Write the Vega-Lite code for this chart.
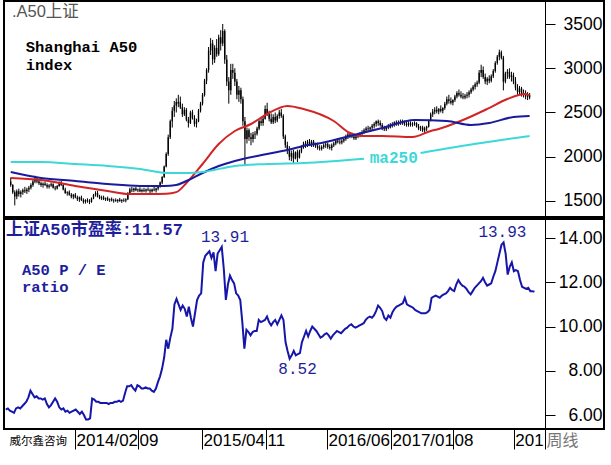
{
"$schema":"https://vega.github.io/schema/vega-lite/v6.json",
"padding":0,
"background":"white",
"spacing":0,
"config":{"view":{"stroke":"black","strokeWidth":2},"concat":{"spacing":0}},
"resolve":{"scale":{"x":"independent","y":"independent"}},
"datasets":{
"wk":[
{"d":"2013-06-07","o":1720,"h":1765,"l":1660,"c":1680,"pe":6.25},
{"d":"2013-06-14","o":1680,"h":1690,"l":1580,"c":1600,"pe":6.3},
{"d":"2013-06-21","o":1600,"h":1620,"l":1450,"c":1550,"pe":6.2},
{"d":"2013-06-28","o":1550,"h":1630,"l":1520,"c":1610,"pe":6.15},
{"d":"2013-07-05","o":1610,"h":1640,"l":1550,"c":1580,"pe":6.1},
{"d":"2013-07-12","o":1580,"h":1620,"l":1540,"c":1600,"pe":6.3},
{"d":"2013-07-19","o":1600,"h":1640,"l":1570,"c":1620,"pe":6.35},
{"d":"2013-07-26","o":1620,"h":1660,"l":1590,"c":1610,"pe":6.3},
{"d":"2013-08-02","o":1610,"h":1650,"l":1580,"c":1630,"pe":6.4},
{"d":"2013-08-09","o":1630,"h":1670,"l":1600,"c":1650,"pe":6.5},
{"d":"2013-08-16","o":1650,"h":1700,"l":1630,"c":1680,"pe":6.6},
{"d":"2013-08-23","o":1680,"h":1740,"l":1660,"c":1720,"pe":6.8},
{"d":"2013-08-30","o":1720,"h":1785,"l":1700,"c":1750,"pe":7.1},
{"d":"2013-09-06","o":1750,"h":1770,"l":1700,"c":1720,"pe":6.95},
{"d":"2013-09-13","o":1720,"h":1740,"l":1680,"c":1700,"pe":6.8},
{"d":"2013-09-20","o":1700,"h":1720,"l":1660,"c":1680,"pe":6.85},
{"d":"2013-09-27","o":1680,"h":1710,"l":1650,"c":1695,"pe":6.75},
{"d":"2013-10-04","o":1695,"h":1720,"l":1670,"c":1680,"pe":6.75},
{"d":"2013-10-11","o":1680,"h":1700,"l":1640,"c":1660,"pe":6.7},
{"d":"2013-10-18","o":1660,"h":1690,"l":1640,"c":1675,"pe":6.75},
{"d":"2013-10-25","o":1675,"h":1710,"l":1660,"c":1690,"pe":6.5},
{"d":"2013-11-01","o":1690,"h":1700,"l":1640,"c":1650,"pe":6.35},
{"d":"2013-11-08","o":1650,"h":1670,"l":1620,"c":1640,"pe":6.45},
{"d":"2013-11-15","o":1640,"h":1680,"l":1630,"c":1670,"pe":6.6},
{"d":"2013-11-22","o":1670,"h":1720,"l":1660,"c":1710,"pe":6.75},
{"d":"2013-11-29","o":1710,"h":1730,"l":1670,"c":1680,"pe":6.6},
{"d":"2013-12-06","o":1680,"h":1690,"l":1620,"c":1630,"pe":6.35},
{"d":"2013-12-13","o":1630,"h":1650,"l":1580,"c":1590,"pe":6.25},
{"d":"2013-12-20","o":1590,"h":1610,"l":1560,"c":1600,"pe":6.3},
{"d":"2013-12-27","o":1600,"h":1620,"l":1560,"c":1570,"pe":6.15},
{"d":"2014-01-03","o":1570,"h":1590,"l":1530,"c":1550,"pe":6.2},
{"d":"2014-01-10","o":1550,"h":1580,"l":1520,"c":1570,"pe":6.1},
{"d":"2014-01-17","o":1570,"h":1590,"l":1530,"c":1540,"pe":6.15},
{"d":"2014-01-24","o":1540,"h":1560,"l":1500,"c":1520,"pe":6.2},
{"d":"2014-01-31","o":1520,"h":1550,"l":1490,"c":1540,"pe":6.25},
{"d":"2014-02-07","o":1540,"h":1560,"l":1500,"c":1510,"pe":6.15},
{"d":"2014-02-14","o":1510,"h":1530,"l":1470,"c":1490,"pe":6.05},
{"d":"2014-02-21","o":1490,"h":1520,"l":1470,"c":1510,"pe":6.15},
{"d":"2014-02-28","o":1510,"h":1530,"l":1480,"c":1500,"pe":6.0},
{"d":"2014-03-07","o":1500,"h":1520,"l":1465,"c":1490,"pe":5.8},
{"d":"2014-03-14","o":1490,"h":1540,"l":1480,"c":1530,"pe":5.8},
{"d":"2014-03-21","o":1530,"h":1580,"l":1520,"c":1570,"pe":5.85},
{"d":"2014-03-28","o":1570,"h":1610,"l":1550,"c":1590,"pe":6.75},
{"d":"2014-04-04","o":1590,"h":1615,"l":1540,"c":1550,"pe":6.7},
{"d":"2014-04-11","o":1550,"h":1570,"l":1520,"c":1530,"pe":6.6},
{"d":"2014-04-18","o":1530,"h":1560,"l":1510,"c":1540,"pe":6.6},
{"d":"2014-04-25","o":1540,"h":1560,"l":1510,"c":1520,"pe":6.55},
{"d":"2014-05-02","o":1520,"h":1540,"l":1500,"c":1530,"pe":6.55},
{"d":"2014-05-09","o":1530,"h":1550,"l":1500,"c":1510,"pe":6.55},
{"d":"2014-05-16","o":1510,"h":1530,"l":1490,"c":1520,"pe":6.55},
{"d":"2014-05-23","o":1520,"h":1540,"l":1495,"c":1505,"pe":6.5},
{"d":"2014-05-30","o":1505,"h":1525,"l":1480,"c":1510,"pe":6.55},
{"d":"2014-06-06","o":1510,"h":1530,"l":1490,"c":1500,"pe":6.55},
{"d":"2014-06-13","o":1500,"h":1520,"l":1480,"c":1515,"pe":6.6},
{"d":"2014-06-20","o":1515,"h":1535,"l":1490,"c":1500,"pe":6.6},
{"d":"2014-06-27","o":1500,"h":1520,"l":1478,"c":1510,"pe":6.65},
{"d":"2014-07-04","o":1510,"h":1530,"l":1490,"c":1505,"pe":6.6},
{"d":"2014-07-11","o":1505,"h":1530,"l":1485,"c":1520,"pe":6.65},
{"d":"2014-07-18","o":1520,"h":1600,"l":1510,"c":1590,"pe":7.0},
{"d":"2014-07-25","o":1590,"h":1650,"l":1580,"c":1630,"pe":7.3},
{"d":"2014-08-01","o":1630,"h":1660,"l":1600,"c":1620,"pe":7.3},
{"d":"2014-08-08","o":1620,"h":1650,"l":1600,"c":1640,"pe":7.35},
{"d":"2014-08-15","o":1640,"h":1660,"l":1610,"c":1620,"pe":7.2},
{"d":"2014-08-22","o":1620,"h":1640,"l":1600,"c":1630,"pe":7.1},
{"d":"2014-08-29","o":1630,"h":1655,"l":1600,"c":1610,"pe":7.35},
{"d":"2014-09-05","o":1610,"h":1640,"l":1595,"c":1625,"pe":7.3},
{"d":"2014-09-12","o":1625,"h":1650,"l":1600,"c":1615,"pe":7.2},
{"d":"2014-09-19","o":1615,"h":1640,"l":1595,"c":1630,"pe":7.2},
{"d":"2014-09-26","o":1630,"h":1655,"l":1610,"c":1620,"pe":7.25},
{"d":"2014-10-03","o":1620,"h":1640,"l":1590,"c":1610,"pe":7.2},
{"d":"2014-10-10","o":1610,"h":1640,"l":1595,"c":1630,"pe":7.2},
{"d":"2014-10-17","o":1630,"h":1660,"l":1610,"c":1620,"pe":7.1},
{"d":"2014-10-24","o":1620,"h":1650,"l":1595,"c":1640,"pe":7.05},
{"d":"2014-10-31","o":1640,"h":1680,"l":1620,"c":1670,"pe":7.2},
{"d":"2014-11-07","o":1670,"h":1720,"l":1650,"c":1710,"pe":7.5},
{"d":"2014-11-14","o":1710,"h":1780,"l":1690,"c":1770,"pe":7.75},
{"d":"2014-11-21","o":1770,"h":1900,"l":1760,"c":1890,"pe":8.1},
{"d":"2014-11-28","o":1890,"h":2050,"l":1880,"c":2030,"pe":8.6},
{"d":"2014-12-05","o":2030,"h":2250,"l":2010,"c":2220,"pe":9.4},
{"d":"2014-12-12","o":2220,"h":2420,"l":2200,"c":2400,"pe":9.0},
{"d":"2014-12-19","o":2400,"h":2560,"l":2330,"c":2520,"pe":9.5},
{"d":"2014-12-26","o":2520,"h":2630,"l":2450,"c":2580,"pe":9.9},
{"d":"2015-01-02","o":2580,"h":2660,"l":2500,"c":2620,"pe":11.0},
{"d":"2015-01-09","o":2620,"h":2700,"l":2560,"c":2600,"pe":11.25},
{"d":"2015-01-16","o":2620,"h":2680,"l":2540,"c":2560,"pe":11.0},
{"d":"2015-01-23","o":2560,"h":2600,"l":2450,"c":2480,"pe":10.75},
{"d":"2015-01-30","o":2480,"h":2560,"l":2460,"c":2530,"pe":10.95},
{"d":"2015-02-06","o":2530,"h":2550,"l":2400,"c":2420,"pe":10.8},
{"d":"2015-02-13","o":2420,"h":2450,"l":2330,"c":2380,"pe":10.45},
{"d":"2015-02-20","o":2380,"h":2520,"l":2370,"c":2500,"pe":10.9},
{"d":"2015-02-27","o":2500,"h":2530,"l":2420,"c":2440,"pe":10.4},
{"d":"2015-03-06","o":2440,"h":2470,"l":2340,"c":2370,"pe":10.0},
{"d":"2015-03-13","o":2370,"h":2430,"l":2330,"c":2400,"pe":10.6},
{"d":"2015-03-20","o":2400,"h":2540,"l":2390,"c":2520,"pe":11.2},
{"d":"2015-03-27","o":2520,"h":2620,"l":2500,"c":2600,"pe":11.4},
{"d":"2015-04-03","o":2600,"h":2720,"l":2580,"c":2700,"pe":11.5},
{"d":"2015-04-10","o":2700,"h":2880,"l":2680,"c":2860,"pe":12.9},
{"d":"2015-04-17","o":2860,"h":3000,"l":2820,"c":2980,"pe":13.2},
{"d":"2015-04-24","o":2980,"h":3240,"l":2950,"c":3200,"pe":13.3},
{"d":"2015-05-01","o":3200,"h":3340,"l":3150,"c":3280,"pe":13.4},
{"d":"2015-05-08","o":3280,"h":3320,"l":3040,"c":3100,"pe":13.1},
{"d":"2015-05-15","o":3100,"h":3260,"l":3060,"c":3230,"pe":13.35},
{"d":"2015-05-22","o":3230,"h":3330,"l":3130,"c":3160,"pe":12.5},
{"d":"2015-05-29","o":3160,"h":3380,"l":3140,"c":3350,"pe":13.3},
{"d":"2015-06-05","o":3350,"h":3430,"l":3200,"c":3280,"pe":13.45},
{"d":"2015-06-12","o":3280,"h":3500,"l":3250,"c":3420,"pe":13.6},
{"d":"2015-06-19","o":3420,"h":3440,"l":3050,"c":3100,"pe":12.6},
{"d":"2015-06-26","o":3100,"h":3150,"l":2800,"c":2850,"pe":11.2},
{"d":"2015-07-03","o":2850,"h":2900,"l":2600,"c":2750,"pe":11.9},
{"d":"2015-07-10","o":2750,"h":3050,"l":2700,"c":2980,"pe":12.3},
{"d":"2015-07-17","o":2980,"h":3050,"l":2880,"c":2950,"pe":12.1},
{"d":"2015-07-24","o":2950,"h":3000,"l":2800,"c":2850,"pe":11.95},
{"d":"2015-07-31","o":2850,"h":2880,"l":2650,"c":2700,"pe":11.5},
{"d":"2015-08-07","o":2700,"h":2800,"l":2620,"c":2750,"pe":11.4},
{"d":"2015-08-14","o":2750,"h":2780,"l":2600,"c":2650,"pe":11.2},
{"d":"2015-08-21","o":2650,"h":2680,"l":2350,"c":2400,"pe":10.2},
{"d":"2015-08-28","o":2400,"h":2450,"l":1900,"c":2200,"pe":9.0},
{"d":"2015-09-04","o":2200,"h":2330,"l":2150,"c":2300,"pe":9.85},
{"d":"2015-09-11","o":2300,"h":2320,"l":2180,"c":2220,"pe":9.75},
{"d":"2015-09-18","o":2220,"h":2270,"l":2130,"c":2200,"pe":9.6},
{"d":"2015-09-25","o":2200,"h":2280,"l":2160,"c":2250,"pe":9.75},
{"d":"2015-10-02","o":2250,"h":2290,"l":2200,"c":2260,"pe":9.8},
{"d":"2015-10-09","o":2260,"h":2340,"l":2240,"c":2320,"pe":9.8},
{"d":"2015-10-16","o":2320,"h":2420,"l":2300,"c":2400,"pe":10.3},
{"d":"2015-10-23","o":2400,"h":2450,"l":2350,"c":2380,"pe":10.2},
{"d":"2015-10-30","o":2380,"h":2460,"l":2350,"c":2430,"pe":10.25},
{"d":"2015-11-06","o":2430,"h":2580,"l":2420,"c":2540,"pe":10.3},
{"d":"2015-11-13","o":2540,"h":2610,"l":2460,"c":2480,"pe":10.45},
{"d":"2015-11-20","o":2480,"h":2520,"l":2400,"c":2430,"pe":10.2},
{"d":"2015-11-27","o":2430,"h":2490,"l":2370,"c":2390,"pe":10.05},
{"d":"2015-12-04","o":2390,"h":2480,"l":2370,"c":2450,"pe":10.2},
{"d":"2015-12-11","o":2450,"h":2500,"l":2380,"c":2410,"pe":10.3},
{"d":"2015-12-18","o":2410,"h":2480,"l":2390,"c":2460,"pe":10.1},
{"d":"2015-12-25","o":2460,"h":2530,"l":2430,"c":2500,"pe":10.3},
{"d":"2016-01-01","o":2500,"h":2540,"l":2440,"c":2460,"pe":10.5},
{"d":"2016-01-08","o":2460,"h":2480,"l":2200,"c":2230,"pe":10.3},
{"d":"2016-01-15","o":2230,"h":2250,"l":2100,"c":2130,"pe":9.3},
{"d":"2016-01-22","o":2130,"h":2170,"l":2030,"c":2080,"pe":8.9},
{"d":"2016-01-29","o":2080,"h":2120,"l":1960,"c":2000,"pe":8.55},
{"d":"2016-02-05","o":2000,"h":2070,"l":1950,"c":2040,"pe":8.7},
{"d":"2016-02-12","o":2040,"h":2080,"l":1930,"c":1980,"pe":8.9},
{"d":"2016-02-19","o":1980,"h":2060,"l":1970,"c":2050,"pe":8.7},
{"d":"2016-02-26","o":2050,"h":2080,"l":1940,"c":1990,"pe":8.75},
{"d":"2016-03-04","o":1990,"h":2080,"l":1980,"c":2060,"pe":8.8},
{"d":"2016-03-11","o":2060,"h":2130,"l":2040,"c":2110,"pe":9.3},
{"d":"2016-03-18","o":2110,"h":2170,"l":2090,"c":2150,"pe":9.55},
{"d":"2016-03-25","o":2150,"h":2180,"l":2100,"c":2130,"pe":9.8},
{"d":"2016-04-01","o":2130,"h":2190,"l":2110,"c":2170,"pe":9.55},
{"d":"2016-04-08","o":2170,"h":2200,"l":2120,"c":2140,"pe":9.8},
{"d":"2016-04-15","o":2140,"h":2190,"l":2110,"c":2170,"pe":10.0},
{"d":"2016-04-22","o":2170,"h":2190,"l":2110,"c":2130,"pe":9.9},
{"d":"2016-04-29","o":2130,"h":2160,"l":2100,"c":2120,"pe":9.8},
{"d":"2016-05-06","o":2120,"h":2160,"l":2080,"c":2100,"pe":9.65},
{"d":"2016-05-13","o":2100,"h":2130,"l":2070,"c":2090,"pe":9.5},
{"d":"2016-05-20","o":2090,"h":2130,"l":2070,"c":2110,"pe":9.55},
{"d":"2016-05-27","o":2110,"h":2150,"l":2090,"c":2130,"pe":9.65},
{"d":"2016-06-03","o":2130,"h":2160,"l":2100,"c":2140,"pe":9.7},
{"d":"2016-06-10","o":2140,"h":2160,"l":2090,"c":2110,"pe":9.6},
{"d":"2016-06-17","o":2110,"h":2140,"l":2080,"c":2100,"pe":9.45},
{"d":"2016-06-24","o":2100,"h":2150,"l":2070,"c":2130,"pe":9.6},
{"d":"2016-07-01","o":2130,"h":2170,"l":2110,"c":2150,"pe":9.7},
{"d":"2016-07-08","o":2150,"h":2200,"l":2130,"c":2180,"pe":9.8},
{"d":"2016-07-15","o":2180,"h":2210,"l":2150,"c":2170,"pe":9.75},
{"d":"2016-07-22","o":2170,"h":2200,"l":2140,"c":2160,"pe":9.7},
{"d":"2016-07-29","o":2160,"h":2200,"l":2140,"c":2180,"pe":9.8},
{"d":"2016-08-05","o":2180,"h":2220,"l":2160,"c":2200,"pe":9.9},
{"d":"2016-08-12","o":2200,"h":2250,"l":2180,"c":2230,"pe":9.95},
{"d":"2016-08-19","o":2230,"h":2270,"l":2200,"c":2250,"pe":10.05},
{"d":"2016-08-26","o":2250,"h":2280,"l":2210,"c":2240,"pe":10.1},
{"d":"2016-09-02","o":2240,"h":2270,"l":2210,"c":2230,"pe":10.0},
{"d":"2016-09-09","o":2230,"h":2260,"l":2190,"c":2210,"pe":9.95},
{"d":"2016-09-16","o":2210,"h":2250,"l":2190,"c":2230,"pe":10.0},
{"d":"2016-09-23","o":2230,"h":2270,"l":2210,"c":2250,"pe":10.05},
{"d":"2016-09-30","o":2250,"h":2280,"l":2220,"c":2260,"pe":10.1},
{"d":"2016-10-07","o":2260,"h":2300,"l":2240,"c":2280,"pe":10.15},
{"d":"2016-10-14","o":2280,"h":2320,"l":2260,"c":2300,"pe":10.3},
{"d":"2016-10-21","o":2300,"h":2340,"l":2280,"c":2320,"pe":10.4},
{"d":"2016-10-28","o":2320,"h":2350,"l":2290,"c":2310,"pe":10.45},
{"d":"2016-11-04","o":2310,"h":2340,"l":2280,"c":2330,"pe":10.4},
{"d":"2016-11-11","o":2330,"h":2370,"l":2300,"c":2350,"pe":10.5},
{"d":"2016-11-18","o":2350,"h":2390,"l":2320,"c":2370,"pe":10.7},
{"d":"2016-11-25","o":2370,"h":2410,"l":2340,"c":2400,"pe":10.95},
{"d":"2016-12-02","o":2400,"h":2420,"l":2350,"c":2380,"pe":10.85},
{"d":"2016-12-09","o":2380,"h":2410,"l":2340,"c":2360,"pe":10.7},
{"d":"2016-12-16","o":2360,"h":2380,"l":2300,"c":2320,"pe":10.4},
{"d":"2016-12-23","o":2320,"h":2350,"l":2290,"c":2310,"pe":10.3},
{"d":"2016-12-30","o":2310,"h":2350,"l":2290,"c":2340,"pe":10.5},
{"d":"2017-01-06","o":2340,"h":2370,"l":2310,"c":2330,"pe":10.4},
{"d":"2017-01-13","o":2330,"h":2380,"l":2320,"c":2360,"pe":10.65},
{"d":"2017-01-20","o":2360,"h":2390,"l":2330,"c":2370,"pe":10.8},
{"d":"2017-01-27","o":2370,"h":2400,"l":2340,"c":2390,"pe":10.9},
{"d":"2017-02-03","o":2390,"h":2410,"l":2350,"c":2370,"pe":10.95},
{"d":"2017-02-10","o":2370,"h":2410,"l":2350,"c":2390,"pe":11.0},
{"d":"2017-02-17","o":2390,"h":2420,"l":2360,"c":2380,"pe":11.05},
{"d":"2017-02-24","o":2380,"h":2420,"l":2360,"c":2400,"pe":11.3},
{"d":"2017-03-03","o":2400,"h":2410,"l":2350,"c":2370,"pe":11.0},
{"d":"2017-03-10","o":2370,"h":2400,"l":2340,"c":2360,"pe":10.95},
{"d":"2017-03-17","o":2360,"h":2400,"l":2340,"c":2380,"pe":10.9},
{"d":"2017-03-24","o":2380,"h":2400,"l":2340,"c":2360,"pe":10.85},
{"d":"2017-03-31","o":2360,"h":2390,"l":2340,"c":2370,"pe":10.75},
{"d":"2017-04-07","o":2370,"h":2400,"l":2350,"c":2380,"pe":10.7},
{"d":"2017-04-14","o":2380,"h":2390,"l":2330,"c":2340,"pe":10.65},
{"d":"2017-04-21","o":2340,"h":2370,"l":2300,"c":2320,"pe":10.6},
{"d":"2017-04-28","o":2320,"h":2350,"l":2290,"c":2330,"pe":10.6},
{"d":"2017-05-05","o":2330,"h":2350,"l":2280,"c":2300,"pe":10.6},
{"d":"2017-05-12","o":2300,"h":2340,"l":2270,"c":2320,"pe":10.65},
{"d":"2017-05-19","o":2320,"h":2350,"l":2290,"c":2340,"pe":10.75},
{"d":"2017-05-26","o":2340,"h":2420,"l":2330,"c":2410,"pe":11.3},
{"d":"2017-06-02","o":2410,"h":2500,"l":2400,"c":2480,"pe":11.35},
{"d":"2017-06-09","o":2480,"h":2540,"l":2450,"c":2510,"pe":11.4},
{"d":"2017-06-16","o":2510,"h":2560,"l":2480,"c":2530,"pe":11.35},
{"d":"2017-06-23","o":2530,"h":2570,"l":2490,"c":2510,"pe":11.3},
{"d":"2017-06-30","o":2510,"h":2550,"l":2480,"c":2540,"pe":11.4},
{"d":"2017-07-07","o":2540,"h":2580,"l":2500,"c":2520,"pe":11.45},
{"d":"2017-07-14","o":2520,"h":2560,"l":2490,"c":2550,"pe":11.5},
{"d":"2017-07-21","o":2550,"h":2620,"l":2530,"c":2600,"pe":11.6},
{"d":"2017-07-28","o":2600,"h":2680,"l":2580,"c":2650,"pe":11.75},
{"d":"2017-08-04","o":2650,"h":2700,"l":2600,"c":2630,"pe":11.65},
{"d":"2017-08-11","o":2630,"h":2670,"l":2590,"c":2610,"pe":11.6},
{"d":"2017-08-18","o":2610,"h":2650,"l":2580,"c":2640,"pe":11.9},
{"d":"2017-08-25","o":2640,"h":2700,"l":2620,"c":2680,"pe":12.1},
{"d":"2017-09-01","o":2680,"h":2740,"l":2660,"c":2720,"pe":11.95},
{"d":"2017-09-08","o":2720,"h":2760,"l":2680,"c":2700,"pe":11.85},
{"d":"2017-09-15","o":2700,"h":2740,"l":2660,"c":2680,"pe":11.8},
{"d":"2017-09-22","o":2680,"h":2720,"l":2650,"c":2670,"pe":11.7},
{"d":"2017-09-29","o":2670,"h":2710,"l":2650,"c":2690,"pe":11.55},
{"d":"2017-10-06","o":2690,"h":2730,"l":2660,"c":2700,"pe":11.45},
{"d":"2017-10-13","o":2700,"h":2750,"l":2670,"c":2730,"pe":11.6},
{"d":"2017-10-20","o":2730,"h":2780,"l":2710,"c":2760,"pe":11.75},
{"d":"2017-10-27","o":2760,"h":2810,"l":2740,"c":2790,"pe":11.85},
{"d":"2017-11-03","o":2790,"h":2840,"l":2760,"c":2820,"pe":11.95},
{"d":"2017-11-10","o":2820,"h":2860,"l":2790,"c":2840,"pe":12.05},
{"d":"2017-11-17","o":2840,"h":2980,"l":2820,"c":2950,"pe":12.2},
{"d":"2017-11-24","o":2950,"h":3040,"l":2900,"c":2980,"pe":12.0},
{"d":"2017-12-01","o":2980,"h":3020,"l":2880,"c":2900,"pe":11.85},
{"d":"2017-12-08","o":2900,"h":2940,"l":2820,"c":2850,"pe":11.9},
{"d":"2017-12-15","o":2850,"h":2900,"l":2810,"c":2880,"pe":11.95},
{"d":"2017-12-22","o":2880,"h":2920,"l":2830,"c":2860,"pe":12.25},
{"d":"2017-12-29","o":2860,"h":2930,"l":2840,"c":2910,"pe":12.5},
{"d":"2018-01-05","o":2910,"h":2990,"l":2890,"c":2970,"pe":12.9},
{"d":"2018-01-12","o":2970,"h":3080,"l":2950,"c":3060,"pe":13.3},
{"d":"2018-01-19","o":3060,"h":3150,"l":3040,"c":3130,"pe":13.7},
{"d":"2018-01-26","o":3130,"h":3210,"l":3090,"c":3180,"pe":13.8},
{"d":"2018-02-02","o":3180,"h":3200,"l":3100,"c":3120,"pe":13.3},
{"d":"2018-02-09","o":3120,"h":3140,"l":2750,"c":2850,"pe":12.35},
{"d":"2018-02-16","o":2850,"h":2960,"l":2830,"c":2940,"pe":12.7},
{"d":"2018-02-23","o":2940,"h":2990,"l":2880,"c":2960,"pe":12.9},
{"d":"2018-03-02","o":2960,"h":3000,"l":2880,"c":2900,"pe":12.5},
{"d":"2018-03-09","o":2900,"h":2960,"l":2850,"c":2920,"pe":12.55},
{"d":"2018-03-16","o":2920,"h":2950,"l":2820,"c":2850,"pe":12.5},
{"d":"2018-03-23","o":2850,"h":2900,"l":2750,"c":2780,"pe":12.1},
{"d":"2018-03-30","o":2780,"h":2820,"l":2700,"c":2730,"pe":11.8},
{"d":"2018-04-06","o":2730,"h":2800,"l":2700,"c":2770,"pe":11.75},
{"d":"2018-04-13","o":2770,"h":2790,"l":2680,"c":2700,"pe":11.7},
{"d":"2018-04-20","o":2700,"h":2760,"l":2670,"c":2720,"pe":11.75},
{"d":"2018-04-27","o":2720,"h":2750,"l":2650,"c":2680,"pe":11.6},
{"d":"2018-05-04","o":2680,"h":2730,"l":2640,"c":2700,"pe":11.6},
{"d":"2018-05-11","o":2700,"h":2720,"l":2650,"c":2670,"pe":11.57}
],
"ma":[
{"d":"2013-06-07","v":1760,"s":"red","part":"a"},
{"d":"2013-09-20","v":1737,"s":"red","part":"a"},
{"d":"2014-01-17","v":1670,"s":"red","part":"a"},
{"d":"2014-05-09","v":1613,"s":"red","part":"a"},
{"d":"2014-07-25","v":1579,"s":"red","part":"a"},
{"d":"2014-10-03","v":1579,"s":"red","part":"a"},
{"d":"2014-11-28","v":1582,"s":"red","part":"a"},
{"d":"2015-01-02","v":1600,"s":"red","part":"a"},
{"d":"2015-02-06","v":1703,"s":"red","part":"a"},
{"d":"2015-04-03","v":1918,"s":"red","part":"a"},
{"d":"2015-05-29","v":2144,"s":"red","part":"a"},
{"d":"2015-07-24","v":2291,"s":"red","part":"a"},
{"d":"2015-09-18","v":2370,"s":"red","part":"a"},
{"d":"2015-11-13","v":2483,"s":"red","part":"a"},
{"d":"2016-01-22","v":2574,"s":"red","part":"a"},
{"d":"2016-03-18","v":2540,"s":"red","part":"a"},
{"d":"2016-07-01","v":2404,"s":"red","part":"a"},
{"d":"2016-08-26","v":2268,"s":"red","part":"a"},
{"d":"2016-10-07","v":2235,"s":"red","part":"a"},
{"d":"2016-12-16","v":2235,"s":"red","part":"a"},
{"d":"2017-03-31","v":2223,"s":"red","part":"a"},
{"d":"2017-06-02","v":2291,"s":"red","part":"a"},
{"d":"2017-06-30","v":2314,"s":"red","part":"a"},
{"d":"2017-09-22","v":2415,"s":"red","part":"a"},
{"d":"2017-12-15","v":2540,"s":"red","part":"a"},
{"d":"2018-02-23","v":2653,"s":"red","part":"a"},
{"d":"2018-04-27","v":2709,"s":"red","part":"a"},
{"d":"2018-05-11","v":2690,"s":"red","part":"a"},
{"d":"2013-06-07","v":1828,"s":"blue","part":"a"},
{"d":"2013-09-20","v":1760,"s":"blue","part":"a"},
{"d":"2014-01-17","v":1726,"s":"blue","part":"a"},
{"d":"2014-05-09","v":1692,"s":"blue","part":"a"},
{"d":"2014-08-29","v":1670,"s":"blue","part":"a"},
{"d":"2014-11-21","v":1670,"s":"blue","part":"a"},
{"d":"2015-01-02","v":1681,"s":"blue","part":"a"},
{"d":"2015-02-06","v":1726,"s":"blue","part":"a"},
{"d":"2015-04-03","v":1816,"s":"blue","part":"a"},
{"d":"2015-05-29","v":1895,"s":"blue","part":"a"},
{"d":"2015-07-24","v":1952,"s":"blue","part":"a"},
{"d":"2015-11-13","v":2031,"s":"blue","part":"a"},
{"d":"2016-02-05","v":2088,"s":"blue","part":"a"},
{"d":"2016-03-18","v":2122,"s":"blue","part":"a"},
{"d":"2016-04-29","v":2144,"s":"blue","part":"a"},
{"d":"2016-08-26","v":2235,"s":"blue","part":"a"},
{"d":"2016-12-16","v":2325,"s":"blue","part":"a"},
{"d":"2017-04-07","v":2415,"s":"blue","part":"a"},
{"d":"2017-07-28","v":2404,"s":"blue","part":"a"},
{"d":"2017-10-20","v":2359,"s":"blue","part":"a"},
{"d":"2017-12-22","v":2381,"s":"blue","part":"a"},
{"d":"2018-03-16","v":2449,"s":"blue","part":"a"},
{"d":"2018-05-11","v":2460,"s":"blue","part":"a"},
{"d":"2013-06-07","v":1941,"s":"ma250","part":"a"},
{"d":"2013-09-20","v":1941,"s":"ma250","part":"a"},
{"d":"2014-01-17","v":1918,"s":"ma250","part":"a"},
{"d":"2014-05-09","v":1896,"s":"ma250","part":"a"},
{"d":"2014-08-29","v":1862,"s":"ma250","part":"a"},
{"d":"2014-12-05","v":1816,"s":"ma250","part":"a"},
{"d":"2015-02-06","v":1816,"s":"ma250","part":"a"},
{"d":"2015-04-03","v":1828,"s":"ma250","part":"a"},
{"d":"2015-07-24","v":1896,"s":"ma250","part":"a"},
{"d":"2015-11-13","v":1918,"s":"ma250","part":"a"},
{"d":"2016-03-18","v":1930,"s":"ma250","part":"a"},
{"d":"2016-10-14","v":1978,"s":"ma250","part":"a"},
{"d":"2017-04-28","v":2042,"s":"ma250","part":"b"},
{"d":"2017-11-24","v":2155,"s":"ma250","part":"b"},
{"d":"2018-05-11","v":2235,"s":"ma250","part":"b"}
]
},
"vconcat":[
{
"width":600,"height":216,
"layer":[
{"data":{"name":"wk"},"mark":{"type":"rule","color":"black","strokeWidth":1},
 "encoding":{
  "x":{"field":"d","type":"temporal","axis":null,"scale":{"domain":[{"year":2013,"month":6,"date":1},{"year":2018,"month":6,"date":16}],"range":[0,541]}},
  "y":{"field":"l","type":"quantitative","scale":{"domain":[1319,3760],"nice":false,"zero":false},
   "axis":{"orient":"right","offset":-59,"values":[1500,2000,2500,3000,3500],"format":"d","tickSize":10,"tickColor":"black","labelPadding":47,"labelAlign":"right","labelBaseline":"middle","labelFont":"Liberation Sans","labelFontSize":17.5,"labelColor":"black","domainColor":"black","grid":false,"title":null}},
  "y2":{"field":"h"}}},
{"data":{"name":"wk"},"mark":{"type":"bar","color":"black","width":1.4},
 "encoding":{
  "x":{"field":"d","type":"temporal"},
  "y":{"field":"o","type":"quantitative"},
  "y2":{"field":"c"}}},
{"data":{"name":"ma"},"mark":{"type":"line","strokeWidth":2,"interpolate":"monotone"},
 "encoding":{
  "x":{"field":"d","type":"temporal"},
  "y":{"field":"v","type":"quantitative"},
  "color":{"field":"s","type":"nominal","scale":{"domain":["ma250","blue","red"],"range":["#3cd8d8","#1a1a9c","#d22424"]},"legend":null},
  "detail":{"field":"part"}}},
{"data":{"values":[{}]},"mark":{"type":"text","align":"left","baseline":"middle","font":"Liberation Sans, Noto Sans CJK SC","fontSize":16.5,"color":"#555555"},
 "encoding":{"x":{"datum":{"year":2013,"month":6,"date":11},"type":"temporal"},"y":{"datum":3636,"type":"quantitative"},"text":{"value":".A50上证"}}},
{"data":{"values":[{}]},"mark":{"type":"text","align":"left","baseline":"middle","font":"Liberation Mono","fontSize":15.5,"fontWeight":"bold","color":"black"},
 "encoding":{"x":{"datum":{"year":2013,"month":7,"date":29},"type":"temporal"},"y":{"datum":3235,"type":"quantitative"},"text":{"value":"Shanghai A50"}}},
{"data":{"values":[{}]},"mark":{"type":"text","align":"left","baseline":"middle","font":"Liberation Mono","fontSize":15.5,"fontWeight":"bold","color":"black"},
 "encoding":{"x":{"datum":{"year":2013,"month":7,"date":29},"type":"temporal"},"y":{"datum":3042,"type":"quantitative"},"text":{"value":"index"}}},
{"data":{"values":[{}]},"mark":{"type":"text","align":"center","baseline":"middle","font":"Liberation Mono","fontSize":16,"fontWeight":"bold","color":"#3cd8d8"},
 "encoding":{"x":{"datum":{"year":2017,"month":1,"date":25},"type":"temporal"},"y":{"datum":1986,"type":"quantitative"},"text":{"value":"ma250"}}}
]
},
{
"width":600,"height":210,
"layer":[
{"data":{"name":"wk"},"mark":{"type":"line","color":"#1616aa","strokeWidth":2},
 "encoding":{
  "x":{"field":"d","type":"temporal","scale":{"domain":[{"year":2013,"month":6,"date":1},{"year":2018,"month":6,"date":16}],"range":[0,541]},
   "axis":{
    "values":[{"year":2014,"month":1,"date":29},{"year":2014,"month":8,"date":31},{"year":2015,"month":4,"date":6},{"year":2015,"month":11,"date":10},{"year":2016,"month":6,"date":4},{"year":2017,"month":1,"date":8},{"year":2017,"month":8,"date":7},{"year":2018,"month":3,"date":2},{"year":2018,"month":6,"date":16}],
    "labelExpr":"timeFormat(datum.value,'%Y%m')=='201401'?'2014/02':timeFormat(datum.value,'%Y%m')=='201408'?'09':timeFormat(datum.value,'%Y%m')=='201504'?'2015/04':timeFormat(datum.value,'%Y%m')=='201511'?'11':timeFormat(datum.value,'%Y%m')=='201606'?'2016/06':timeFormat(datum.value,'%Y%m')=='201701'?'2017/01':timeFormat(datum.value,'%Y%m')=='201708'?'08':timeFormat(datum.value,'%Y%m')=='201803'?'201':'周线'",
    "tickSize":20,"tickColor":"black","tickWidth":1,
    "labelAlign":"left","labelBaseline":"top","labelPadding":-17,"labelOffset":1,
    "labelFont":{"condition":{"test":"timeFormat(datum.value,'%Y%m')=='201806'","value":"Noto Sans CJK SC"},"value":"Liberation Sans"},
    "labelFontSize":{"condition":{"test":"timeFormat(datum.value,'%Y%m')=='201806'","value":16},"value":17},
    "labelColor":{"condition":{"test":"timeFormat(datum.value,'%Y%m')=='201806'","value":"#777777"},"value":"black"},
    "labelOverlap":false,"labelFlush":false,"labelBound":false,
    "domainColor":"black","grid":false,
    "title":"威尔鑫咨询","titleFont":"Noto Sans CJK SC","titleFontSize":11.5,"titleFontWeight":"normal","titleColor":"black",
    "titleX":5,"titleY":12,"titleAlign":"left","titleBaseline":"middle","titleAnchor":"start"}},
  "y":{"field":"pe","type":"quantitative","scale":{"domain":[5.37,14.86],"nice":false,"zero":false},
   "axis":{"orient":"right","offset":-59,"values":[6,8,10,12,14],"format":".2f","tickSize":10,"tickColor":"black","labelPadding":47,"labelAlign":"right","labelBaseline":"middle","labelFont":"Liberation Sans","labelFontSize":17.5,"labelColor":"black","domainColor":"black","grid":false,"title":null}}}},
{"data":{"values":[{}]},"mark":{"type":"text","align":"left","baseline":"middle","font":"Liberation Mono, Noto Sans CJK SC","fontSize":17,"fontWeight":"bold","color":"#1e1e9c"},
 "encoding":{"x":{"datum":{"year":2013,"month":6,"date":8},"type":"temporal"},"y":{"datum":14.36,"type":"quantitative"},"text":{"value":"上证A50市盈率:11.57"}}},
{"data":{"values":[{}]},"mark":{"type":"text","align":"left","baseline":"middle","font":"Liberation Mono","fontSize":15.5,"fontWeight":"bold","color":"#1e1e9c"},
 "encoding":{"x":{"datum":{"year":2013,"month":8,"date":1},"type":"temporal"},"y":{"datum":12.575,"type":"quantitative"},"text":{"value":"A50 P / E"}}},
{"data":{"values":[{}]},"mark":{"type":"text","align":"left","baseline":"middle","font":"Liberation Mono","fontSize":15.5,"fontWeight":"bold","color":"#1e1e9c"},
 "encoding":{"x":{"datum":{"year":2013,"month":8,"date":1},"type":"temporal"},"y":{"datum":11.806,"type":"quantitative"},"text":{"value":"ratio"}}},
{"data":{"values":[{}]},"mark":{"type":"text","align":"center","baseline":"middle","font":"Liberation Mono","fontSize":16,"color":"#1e1e9c"},
 "encoding":{"x":{"datum":{"year":2015,"month":6,"date":23},"type":"temporal"},"y":{"datum":14.05,"type":"quantitative"},"text":{"value":"13.91"}}},
{"data":{"values":[{}]},"mark":{"type":"text","align":"center","baseline":"middle","font":"Liberation Mono","fontSize":16,"color":"#1e1e9c"},
 "encoding":{"x":{"datum":{"year":2016,"month":2,"date":25},"type":"temporal"},"y":{"datum":8.07,"type":"quantitative"},"text":{"value":"8.52"}}},
{"data":{"values":[{}]},"mark":{"type":"text","align":"center","baseline":"middle","font":"Liberation Mono","fontSize":16,"color":"#1e1e9c"},
 "encoding":{"x":{"datum":{"year":2018,"month":1,"date":22},"type":"temporal"},"y":{"datum":14.27,"type":"quantitative"},"text":{"value":"13.93"}}}
]
}
]
}
